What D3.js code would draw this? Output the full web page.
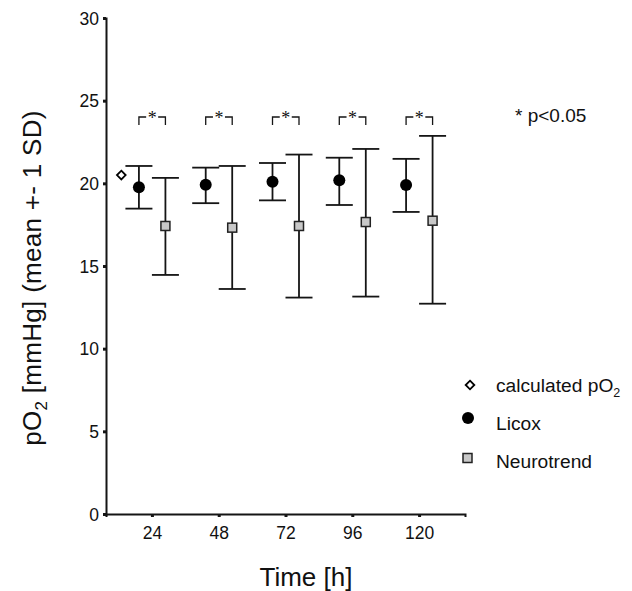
<!DOCTYPE html>
<html>
<head>
<meta charset="utf-8">
<script src="https://cdn.jsdelivr.net/npm/d3@7"></script>
<style>
  body { margin: 0; background: #fff; }
  svg text { font-family: "Liberation Sans", Arial, sans-serif; fill: #111; }
</style>
</head>
<body>
<div id="chart"></div>
<script>
// time points (hours)
const hours = [24, 48, 72, 96, 120];
const xTickLabels = ["24", "48", "72", "96", "120"];
const yTicks = [0, 5, 10, 15, 20, 25, 30];

// Licox: mean and +-1 SD
const licoxMean = [19.76, 19.92, 20.1, 20.19, 19.9];
const licoxHi = [21.05, 20.95, 21.23, 21.55, 21.48];
const licoxLo = [18.47, 18.8, 18.97, 18.69, 18.27];

// Neurotrend: mean and +-1 SD
const neuroMean = [17.42, 17.32, 17.42, 17.66, 17.74];
const neuroHi = [20.33, 21.05, 21.74, 22.08, 22.87];
const neuroLo = [14.46, 13.61, 13.09, 13.15, 12.72];

// calculated pO2 (single value)
const calcTime = [13];
const calcValue = [20.5];

const legendLabels = ["calculated pO", "Licox", "Neurotrend"];

const width = 632, height = 591;

const svg = d3.select("#chart").append("svg")
    .attr("width", width)
    .attr("height", height);

const x = d3.scaleLinear().domain([7.5, 136.5]).range([106, 465]);
const y = d3.scaleLinear().domain([0, 30]).range([514, 18]);

const ink = "#151515";
const offL = -13, offN = 13.5, capW = 13.5;

// axes
const yAxis = d3.axisLeft(y).tickValues(yTicks).tickSize(3).tickPadding(4);
const xAxis = d3.axisBottom(x).tickValues(hours).tickFormat((d, i) => xTickLabels[i]).tickSize(3).tickPadding(10);

const gy = svg.append("g").attr("transform", "translate(106,0)").call(yAxis);
const gx = svg.append("g").attr("transform", "translate(0,514)").call(xAxis);

[gy, gx].forEach(g => {
    g.select(".domain").attr("stroke", ink).attr("stroke-width", 2);
    g.selectAll(".tick line").attr("stroke", ink).attr("stroke-width", 3);
    g.selectAll(".tick text").attr("font-size", 17.5).attr("fill", "#111")
        .attr("font-family", "Liberation Sans, Arial, sans-serif");
});
gy.selectAll(".tick text").attr("dy", "0.36em");

// error bars
function errorBars(means, hi, lo, off) {
    const g = svg.append("g").attr("stroke", ink).attr("stroke-width", 1.8);
    hours.forEach((h, i) => {
        const cx = x(h) + off;
        g.append("line").attr("x1", cx).attr("x2", cx).attr("y1", y(hi[i])).attr("y2", y(lo[i]));
        g.append("line").attr("x1", cx - capW).attr("x2", cx + capW).attr("y1", y(hi[i])).attr("y2", y(hi[i]));
        g.append("line").attr("x1", cx - capW).attr("x2", cx + capW).attr("y1", y(lo[i])).attr("y2", y(lo[i]));
    });
}
errorBars(licoxMean, licoxHi, licoxLo, offL);
errorBars(neuroMean, neuroHi, neuroLo, offN);

// Licox circles
svg.append("g").selectAll("circle")
    .data(licoxMean)
    .join("circle")
    .attr("cx", (d, i) => x(hours[i]) + offL)
    .attr("cy", d => y(d))
    .attr("r", 6)
    .attr("fill", "#000");

// Neurotrend squares
svg.append("g").selectAll("rect")
    .data(neuroMean)
    .join("rect")
    .attr("x", (d, i) => x(hours[i]) + offN - 4.5)
    .attr("y", d => y(d) - 4.5)
    .attr("width", 9)
    .attr("height", 9)
    .attr("fill", "#c8c8c8")
    .attr("stroke", "#222")
    .attr("stroke-width", 1.5);

// calculated pO2 diamond
const diamond = d3.symbol().type(d3.symbolDiamond2).size(48);
svg.append("g").selectAll("path")
    .data(calcValue)
    .join("path")
    .attr("transform", (d, i) => `translate(${x(calcTime[i])},${y(d)})`)
    .attr("d", diamond)
    .attr("fill", "#fff")
    .attr("stroke", "#000")
    .attr("stroke-width", 1.8);

// significance brackets
const brTop = 117, brBot = 125;
hours.forEach(h => {
    const x1 = x(h) + offL, x2 = x(h) + offN, mid = (x1 + x2) / 2;
    svg.append("path")
        .attr("d", `M${x1},${brBot}V${brTop}H${mid - 6}M${mid + 6},${brTop}H${x2}V${brBot}`)
        .attr("fill", "none").attr("stroke", ink).attr("stroke-width", 1.3);
    svg.append("text")
        .attr("x", mid).attr("y", brTop + 7)
        .attr("text-anchor", "middle")
        .attr("font-size", 18)
        .style("font-family", "Liberation Serif, serif")
        .text("*");
});

svg.append("text")
    .attr("x", 515).attr("y", 122)
    .attr("font-size", 19)
    .text("* p<0.05");

// legend
const legY = [388, 426, 464];
const leg = svg.append("g");
leg.append("path")
    .attr("transform", `translate(470,${legY[0] - 3})`)
    .attr("d", diamond)
    .attr("fill", "#fff").attr("stroke", "#000").attr("stroke-width", 1.8);
leg.append("circle").attr("cx", 468).attr("cy", legY[1] - 8).attr("r", 6).attr("fill", "#000");
leg.append("rect").attr("x", 463).attr("y", legY[2] - 10.5).attr("width", 9).attr("height", 9)
    .attr("fill", "#c8c8c8").attr("stroke", "#222").attr("stroke-width", 1.5);

legendLabels.forEach((t, i) => {
    const txt = leg.append("text").attr("x", 496).attr("y", legY[i] + 4).attr("font-size", 19.2).text(t);
    if (i === 0) {
        txt.append("tspan").attr("font-size", 12.5).attr("dy", 5).text("2");
    }
});

// axis titles
svg.append("text")
    .attr("x", 306).attr("y", 586)
    .attr("text-anchor", "middle")
    .attr("font-size", 26)
    .text("Time [h]");

const yl = svg.append("text")
    .attr("transform", "translate(41,278) rotate(-90)")
    .attr("text-anchor", "middle")
    .attr("font-size", 26)
    .attr("letter-spacing", 0.3);
yl.append("tspan").text("pO");
yl.append("tspan").attr("font-size", 17).attr("dy", 6).text("2");
yl.append("tspan").attr("dy", -6).text(" [mmHg] (mean +- 1 SD)");
</script>
</body>
</html>
